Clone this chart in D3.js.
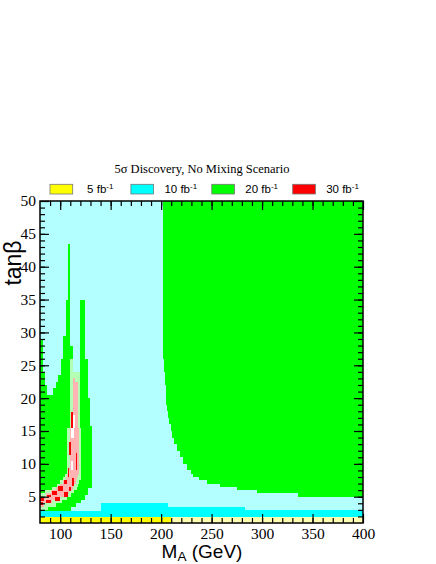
<!DOCTYPE html>
<html>
<head>
<meta charset="utf-8">
<script src="https://cdn.jsdelivr.net/npm/d3@7"></script>
<style>
  body { margin: 0; background: #fff; }
  text { fill: #000; }
  .tick text { font-family: "Liberation Serif", serif; font-size: 15.5px; }
</style>
</head>
<body>
<svg id="chart" width="436" height="564"></svg>
<script>
// axis ranges and ticks
const xDomain = [80, 400];
const yDomain = [1, 50];
const xMajor = [100, 150, 200, 250, 300, 350, 400];
const xMinor = d3.range(90, 400, 10);
const yMajor = [5, 10, 15, 20, 25, 30, 35, 40, 45, 50];
const yMinor = d3.range(2, 50, 1);

const legendLumi = ['5', '10', '20', '30'];
const legendColors = ['#ffff00', '#00ffff', '#00ff00', '#ff0000'];

// regions, each block = [MA from, MA to, tanb from, tanb to]
const yellowBlocks = [[80, 210, 1, 1.92]];
const paleYellowBlocks = [[210, 400, 1, 1.92]];
const cyanBlocks = [[80, 140, 1.92, 2.8], [140, 207, 1.92, 4.0], [207, 283, 1.92, 3.4], [283, 400, 1.92, 3.0]];

const greenLeftBlocks = [
  [80, 82.7, 2.8, 29], [82.7, 84.6, 2.8, 23.8], [84.6, 87, 2.8, 22], [87, 93, 2.8, 20.5],
  [93, 95.5, 2.8, 21.5], [95.5, 97.8, 2.8, 22.5], [97.8, 101, 2.8, 23.5], [101, 103, 2.8, 26],
  [103, 105.8, 2.8, 29.5], [105.8, 107.8, 2.8, 35], [107.8, 110, 2.8, 43.5], [110, 111, 2.8, 28],
  [111, 112.5, 3.5, 28], [112.5, 116, 3.5, 24], [116, 120, 4.0, 24], [120, 121, 4.0, 35],
  [121, 124.3, 4.5, 35], [124.3, 125, 5.3, 35], [125, 127.6, 5.3, 26], [127.6, 130, 6.3, 20],
  [130, 131.5, 6.3, 15.7]
];

// right green region: row bottoms and left edge of each row
const greenRightT = [5, 5.5, 6, 6.5, 7, 7.5, 8, 8.5, 9, 10, 11, 12, 13, 14, 15, 16, 17, 18, 19, 20, 22, 24, 26];
const greenRightEdge = [335.4, 295.4, 275, 258.4, 245.2, 237.6, 232, 229.5, 226, 222, 218.5, 215.5, 213, 211, 209.5, 208, 207, 206, 205.3, 204.5, 203.5, 202.8, 202];

const paleGreenBlocks = [
  [80, 88, 3.0, 3.5], [80, 95.5, 3.5, 4.0], [80, 102, 4.0, 4.5], [80, 106.5, 4.5, 5.0],
  [80, 110.5, 5.0, 5.5], [85, 114, 5.5, 6.0], [91.5, 116.5, 6.0, 6.5], [97, 117.5, 6.5, 7.0],
  [100, 119, 7.0, 7.5], [103, 121, 7.5, 8.0], [105, 121, 8.0, 8.5], [106.3, 121, 8.5, 9.0],
  [107, 121, 9.0, 15.5], [110, 120, 15.5, 24], [110, 113, 24, 26]
];

const pinkBlocks = [
  [80, 84, 3.5, 4.0], [80, 92, 4.0, 4.5], [80, 100, 4.5, 5.0], [86, 105, 5.0, 5.5],
  [91, 109, 5.5, 6.0], [95.5, 112.5, 6.0, 6.5], [99.5, 114, 6.5, 7.0], [103, 116, 7.0, 7.5],
  [105.3, 117, 7.5, 8.0], [107, 118, 8.0, 8.5], [108, 118.5, 8.5, 9.0], [109, 118.5, 9.0, 9.5],
  [109.4, 118.5, 9.5, 15.5], [112.7, 117.6, 15.5, 22.5], [112.7, 115, 22.5, 23]
];

const redBlocks = [
  [80, 84, 4.4, 4.9], [86.5, 91, 4.9, 5.3], [92, 96.5, 5.3, 5.8], [98, 103, 5.9, 6.6],
  [104, 106.5, 7.0, 7.6], [107.3, 109.2, 8.0, 9.3], [108.6, 110.3, 11.3, 13.3], [110.4, 112.7, 15.2, 17.9],
  [80, 82.5, 3.8, 4.2], [86, 91, 4.0, 4.5], [94.5, 100, 4.4, 4.9], [103.5, 107.5, 5.0, 5.7],
  [109, 111, 5.9, 6.5], [111.5, 113.5, 6.6, 7.8], [115.3, 117, 9.1, 11.6]
];

const whiteBlocks = [[112.7, 114.5, 15.5, 17.4], [111, 113.4, 13.9, 15.5], [110.8, 113, 9.1, 10.5]];

const svg = d3.select('#chart');
const margin = { left: 40, right: 73, top: 201, bottom: 41 };
const width = 436, height = 564;

const x = d3.scaleLinear().domain(xDomain).range([margin.left, width - margin.right]);
const y = d3.scaleLinear().domain(yDomain).range([height - margin.bottom, margin.top]);

const plot = svg.append('g').attr('shape-rendering', 'crispEdges');

plot.append('rect')
  .attr('x', x(80)).attr('y', y(50))
  .attr('width', x(400) - x(80)).attr('height', y(1) - y(50))
  .attr('fill', '#b3ffff');

const drawBlocks = (blocks, color) => {
  plot.append('g').selectAll('rect')
    .data(blocks)
    .join('rect')
    .attr('x', d => x(d[0]))
    .attr('width', d => x(d[1]) - x(d[0]))
    .attr('y', d => y(d[3]))
    .attr('height', d => y(d[2]) - y(d[3]))
    .attr('fill', color);
};

const greenRightBlocks = greenRightT.map((t, i) => [greenRightEdge[i], 400, t, i < greenRightT.length - 1 ? greenRightT[i + 1] : 50]);

drawBlocks(yellowBlocks, '#ffff00');
drawBlocks(paleYellowBlocks, '#ffffb3');
drawBlocks(cyanBlocks, '#00ffff');
drawBlocks(greenLeftBlocks, '#00ff00');
drawBlocks(greenRightBlocks, '#00ff00');
drawBlocks(paleGreenBlocks, '#b3ffb3');
drawBlocks(pinkBlocks, '#ffb3b3');
drawBlocks(redBlocks, '#ff0000');
drawBlocks(whiteBlocks, '#ffffff');

// axes, ticks pointing inwards on all four sides
const axes = svg.append('g');
const tickStyle = g => {
  g.attr('font-family', 'Liberation Serif').attr('font-size', 15.5);
  g.select('.domain').remove();
  g.selectAll('.tick line').attr('stroke', '#000').attr('stroke-width', 1.2);
};

axes.append('g').attr('transform', `translate(0,${y(1)})`)
  .call(d3.axisBottom(x).tickValues(xMajor).tickSize(-9).tickPadding(5).tickFormat(d3.format('d')))
  .call(tickStyle);
axes.append('g').attr('transform', `translate(0,${y(1)})`)
  .call(d3.axisBottom(x).tickValues(xMinor).tickSize(-5).tickFormat(''))
  .call(tickStyle);
axes.append('g').attr('transform', `translate(0,${y(50)})`)
  .call(d3.axisTop(x).tickValues(xMajor).tickSize(-9).tickFormat(''))
  .call(tickStyle);
axes.append('g').attr('transform', `translate(0,${y(50)})`)
  .call(d3.axisTop(x).tickValues(xMinor).tickSize(-5).tickFormat(''))
  .call(tickStyle);

axes.append('g').attr('transform', `translate(${x(80)},0)`)
  .call(d3.axisLeft(y).tickValues(yMajor).tickSize(-9).tickPadding(4).tickFormat(d3.format('d')))
  .call(tickStyle);
axes.append('g').attr('transform', `translate(${x(80)},0)`)
  .call(d3.axisLeft(y).tickValues(yMinor).tickSize(-5).tickFormat(''))
  .call(tickStyle);
axes.append('g').attr('transform', `translate(${x(400)},0)`)
  .call(d3.axisRight(y).tickValues(yMajor).tickSize(-9).tickFormat(''))
  .call(tickStyle);
axes.append('g').attr('transform', `translate(${x(400)},0)`)
  .call(d3.axisRight(y).tickValues(yMinor).tickSize(-5).tickFormat(''))
  .call(tickStyle);

// frame
svg.append('rect')
  .attr('x', x(80)).attr('y', y(50))
  .attr('width', x(400) - x(80)).attr('height', y(1) - y(50))
  .attr('fill', 'none').attr('stroke', '#000').attr('stroke-width', 1.5);

// axis titles
const xTitle = svg.append('text')
  .attr('x', 202).attr('y', 558)
  .attr('text-anchor', 'middle')
  .attr('font-family', 'Liberation Sans').attr('font-size', 19);
xTitle.append('tspan').text('M');
xTitle.append('tspan').attr('font-size', 13.5).attr('dy', 3).text('A');
xTitle.append('tspan').attr('dy', -3).text(' (GeV)');

const yTitle = svg.append('text')
  .attr('transform', 'translate(21,263) rotate(-90)')
  .attr('text-anchor', 'middle')
  .attr('font-family', 'Liberation Sans').attr('font-size', 23);
yTitle.append('tspan').text('tan');
yTitle.append('tspan').text('β');

// title
svg.append('text')
  .attr('x', 202).attr('y', 172.5)
  .attr('text-anchor', 'middle')
  .attr('font-family', 'Liberation Serif').attr('font-size', 12.5)
  .text('5σ Discovery, No Mixing Scenario');

// legend
const legend = svg.append('g');
legendLumi.forEach((lab, i) => {
  const bx = 50 + i * 80.9;
  legend.append('rect')
    .attr('x', bx).attr('y', 184.3).attr('width', 22.7).attr('height', 9.7)
    .attr('fill', legendColors[i]).attr('stroke', '#777').attr('stroke-width', 0.8);
  const t = legend.append('text')
    .attr('x', bx + 33.5 + (lab.length === 1 ? 3.6 : 0)).attr('y', 193.3)
    .attr('font-family', 'Liberation Sans').attr('font-size', 11.5);
  t.append('tspan').text(`${lab} fb`);
  t.append('tspan').attr('font-size', 8).attr('dy', -4.5).text('-1');
});
</script>
</body>
</html>
